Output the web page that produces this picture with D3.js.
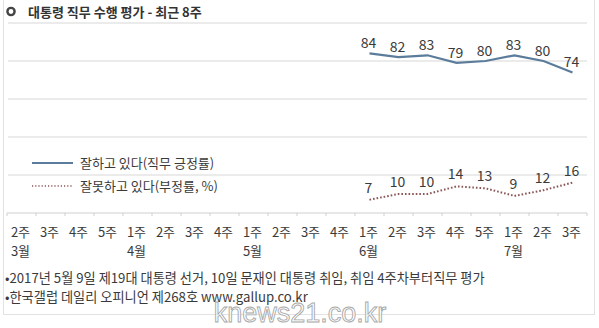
<!DOCTYPE html>
<html>
<head>
<meta charset="utf-8">
<script src="https://cdn.jsdelivr.net/npm/d3@7"></script>
<style>
  html, body { margin: 0; padding: 0; background: #fff; }
  svg { display: block; font-family: "Noto Sans CJK KR", "Noto Sans", sans-serif; }
</style>
</head>
<body>
<svg id="chart" width="599" height="328"></svg>
<script>
// Weekly slots, 2017: March wk2 through July wk3
const weeks = ["2주","3주","4주","5주","1주","2주","3주","4주","1주","2주","3주","4주","1주","2주","3주","4주","5주","1주","2주","3주"];
const months = ["3월","","","","4월","","","","5월","","","","6월","","","","","7월","",""];
const approveWeeks = [12,13,14,15,16,17,18,19];
const approve = [84,82,83,79,80,83,80,74];
const disapprove = [7,10,10,14,13,9,12,16];
const yTicks = [0,20,40,60,80,100];
const legendLabels = ["잘하고 있다(직무 긍정률)", "잘못하고 있다(부정률, %)"];
const titleText = "대통령 직무 수행 평가 - 최근 8주";
const notes = [
  "•2017년 5월 9일 제19대 대통령 선거, 10일 문재인 대통령 취임, 취임 4주차부터직무 평가",
  "•한국갤럽 데일리 오피니언 제268호 www.gallup.co.kr"
];

const svg = d3.select("#chart");
const blue = "#5b7c9b", red = "#8a5555", text = "#3a3a3a";

// frame
svg.append("rect").attr("x", 3.5).attr("y", -2).attr("width", 591).attr("height", 316.5)
  .attr("fill", "none").attr("stroke", "#e2e2e2");

const x = d3.scaleBand().domain(d3.range(weeks.length)).range([7, 587]);
const y = d3.scaleLinear().domain([0, 100]).range([213, 23]);
const cx = i => x(i) + x.bandwidth() / 2;

// gridlines
svg.append("g").selectAll("line").data(yTicks.filter(v => v > 0)).join("line")
  .attr("x1", 8).attr("x2", 587).attr("y1", d => y(d)).attr("y2", d => y(d))
  .attr("stroke", "#e4e4e4").attr("stroke-width", 1.5);

// title
svg.append("circle").attr("cx", 11).attr("cy", 11.5).attr("r", 3.6)
  .attr("fill", "#fff").attr("stroke", "#444").attr("stroke-width", 2.4);
svg.append("text").attr("x", 28).attr("y", 16.5).attr("font-size", 13).attr("font-weight", "bold")
  .attr("fill", "#333").text(titleText);

// x axis
const ax = svg.append("g");
ax.append("line").attr("x1", 7).attr("x2", 587).attr("y1", 213).attr("y2", 213)
  .attr("stroke", "#cfcfcf").attr("stroke-width", 1);
ax.selectAll("line.tk").data(d3.range(weeks.length + 1)).join("line").attr("class", "tk")
  .attr("x1", i => 7 + i * x.step()).attr("x2", i => 7 + i * x.step())
  .attr("y1", 213).attr("y2", 216).attr("stroke", "#cfcfcf");
ax.selectAll("text.wk").data(weeks).join("text").attr("class", "wk")
  .attr("x", (d, i) => cx(i) - 1).attr("y", 237).attr("text-anchor", "middle")
  .attr("font-size", 13).attr("fill", text).text(d => d);
ax.selectAll("text.mo").data(months).join("text").attr("class", "mo")
  .attr("x", (d, i) => cx(i) - 1).attr("y", 256).attr("text-anchor", "middle")
  .attr("font-size", 13).attr("fill", text).text(d => d);

// series
const line = d3.line().x((d, i) => cx(approveWeeks[i])).y(d => y(d));
svg.append("path").datum(approve).attr("d", line).attr("fill", "none")
  .attr("stroke", blue).attr("stroke-width", 2.2);
svg.append("path").datum(disapprove).attr("d", line).attr("fill", "none")
  .attr("stroke", red).attr("stroke-width", 2).attr("stroke-dasharray", "1.6,2");

const valueLabels = (data, cls, off) => svg.selectAll("text." + cls).data(data).join("text")
  .attr("class", cls).attr("x", (d, i) => cx(approveWeeks[i]) - 1).attr("y", d => y(d) - off)
  .attr("text-anchor", "middle").attr("font-size", 14).attr("fill", text).text(d => d);
valueLabels(approve, "ap", 5);
valueLabels(disapprove, "dp", 7);

// legend
svg.append("line").attr("x1", 32).attr("x2", 73).attr("y1", 163).attr("y2", 163)
  .attr("stroke", blue).attr("stroke-width", 2.2);
svg.append("line").attr("x1", 32).attr("x2", 73).attr("y1", 186).attr("y2", 186)
  .attr("stroke", red).attr("stroke-width", 1.6).attr("stroke-dasharray", "1.2,2");
svg.selectAll("text.lg").data(legendLabels).join("text").attr("class", "lg")
  .attr("x", 80).attr("y", (d, i) => 168 + i * 23).attr("font-size", 13).attr("fill", text)
  .text(d => d);

// notes
svg.selectAll("text.nt").data(notes).join("text").attr("class", "nt")
  .attr("x", 5).attr("y", (d, i) => 283 + i * 19).attr("font-size", 13.2).attr("fill", text)
  .text(d => d);

// site mark
svg.append("text").attr("x", 300).attr("y", 322).attr("text-anchor", "middle")
  .attr("font-size", 27).attr("font-family", "Arial, 'Liberation Sans', sans-serif")
  .attr("fill", "#fff").attr("fill-opacity", 0.85).attr("stroke", "#a8a8a8").attr("stroke-width", 0.9)
  .text("knews21.co.kr");
</script>
</body>
</html>
